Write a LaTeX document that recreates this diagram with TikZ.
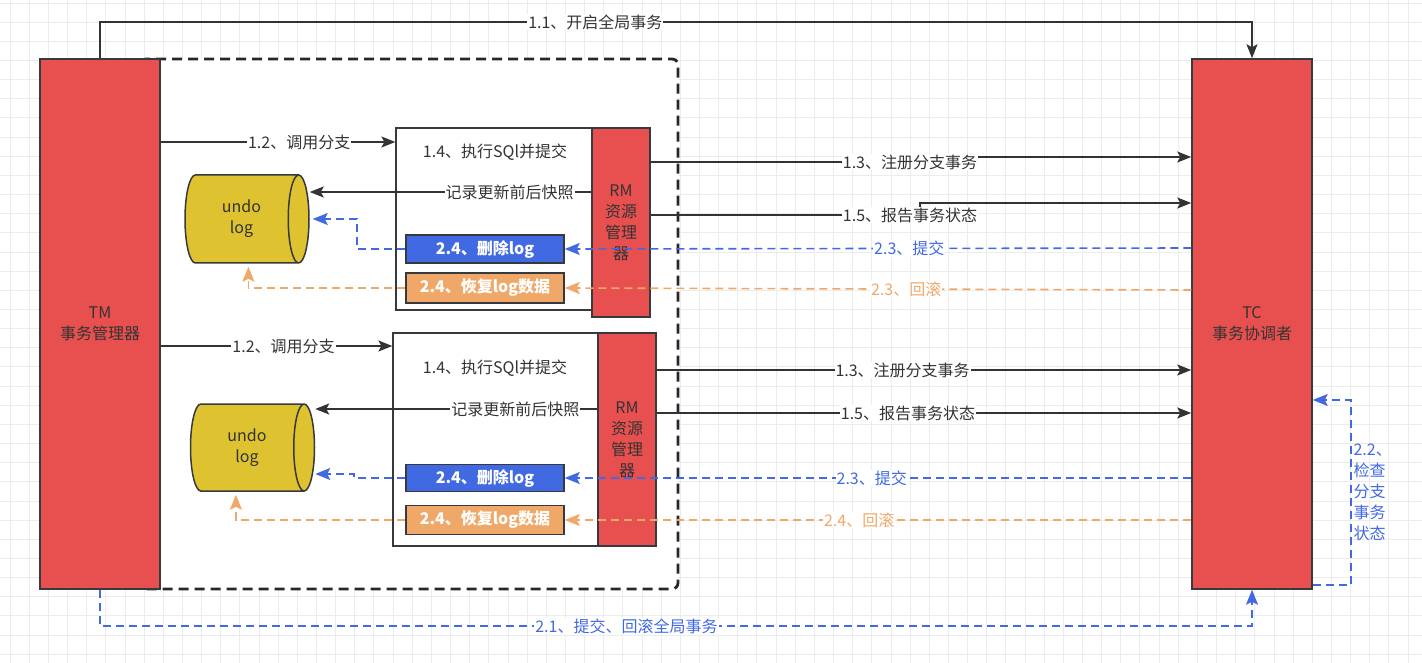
\documentclass[tikz,border=0pt]{standalone}
\usepackage{fontspec}
\setmainfont{Noto Sans CJK SC}
\usetikzlibrary{shapes.geometric, arrows.meta, positioning}
\definecolor{tmred}{RGB}{232,80,80}
\definecolor{edge}{RGB}{54,57,61}
\definecolor{ink}{RGB}{51,51,51}
\definecolor{framedark}{RGB}{35,40,45}
\definecolor{logyellow}{RGB}{222,194,48}
\definecolor{delblue}{RGB}{65,105,225}
\definecolor{recorange}{RGB}{240,168,104}
\definecolor{gridgray}{RGB}{236,236,236}
\tikzstyle{manager} = [rectangle, minimum width=120pt, minimum height=530pt, inner sep=0pt, align=center, draw=edge, line width=1.5pt, fill=tmred, text=ink]
\tikzstyle{rmbox} = [rectangle, minimum width=58pt, inner sep=0pt, align=center, draw=edge, line width=1.5pt, fill=tmred, text=ink]
\tikzstyle{branch} = [rectangle, inner sep=0pt, draw=edge, line width=1.2pt, fill=white]
\tikzstyle{undolog} = [cylinder, shape aspect=0.55, minimum width=88pt, minimum height=124pt, inner sep=0pt, align=center, draw=edge, line width=1.5pt, fill=logyellow, text=ink]
\tikzstyle{delbox} = [rectangle, minimum width=158pt, minimum height=28pt, inner sep=0pt, draw=edge, line width=1.5pt, fill=delblue, text=white, font=\fontsize{16}{21}\selectfont\bfseries]
\tikzstyle{recbox} = [rectangle, minimum width=158pt, minimum height=30pt, inner sep=0pt, draw=edge, line width=1.5pt, fill=recorange, text=white, font=\fontsize{16}{21}\selectfont\bfseries]
\tikzstyle{lbl} = [fill=white, inner sep=1pt, text=ink]
\tikzstyle{flow} = [draw=ink, line width=1.6pt, -{Stealth[length=14pt, width=11pt, inset=3pt]}]
\tikzstyle{commit} = [draw=delblue, line width=1.6pt, dash pattern=on 8pt off 5pt, -{Stealth[length=15pt, width=12pt, inset=3pt]}]
\tikzstyle{rollback} = [draw=recorange, line width=1.6pt, dash pattern=on 8pt off 5pt, -{Stealth[length=15pt, width=12pt, inset=3pt]}]
\tikzstyle{frame} = [draw=framedark, line width=2.8pt, dash pattern=on 10pt off 6pt, rounded corners=6pt, fill=white]
\tikzstyle{gridline} = [draw=gridgray, line width=0.8pt]
\begin{document}
\begin{tikzpicture}[x=1pt, y=-1pt, node distance=40pt, font=\fontsize{16}{21}\selectfont]
\useasboundingbox (0,0) rectangle (1422,663);
\foreach \gx in {10,29.15,...,1422} \draw[gridline] (\gx,0) -- (\gx,663);
\foreach \gy in {3,22.15,...,663} \draw[gridline] (0,\gy) -- (1422,\gy);
\draw[frame] (140,59) rectangle (678,589);

\node (tm) [manager] at (100,324) {TM\\事务管理器};
\node (tc) [manager] at (1252,324) {TC\\事务协调者};

\node (sql1) [branch, minimum width=196pt, minimum height=182pt] at (494,219) {};
\node (rm1) [rmbox, minimum height=189pt] at (621,222.5) {RM\\资源\\管理\\器};
\node (sql1title) [text=ink] at (495,152) {1.4、执行SQl并提交};
\node (undo1) [undolog, anchor=shape center] at (247,219) {undo\\log};
\node (del1) [delbox] at (485,249) {2.4、删除log};
\node (rec1) [recbox, below of=del1, yshift=1pt] {2.4、恢复log数据};

\node (sql2) [branch, minimum width=205pt, minimum height=213pt] at (495.5,439.5) {};
\node (rm2) [rmbox, minimum height=213pt] at (627,439.5) {RM\\资源\\管理\\器};
\node (sql2title) [text=ink] at (495,368) {1.4、执行SQl并提交};
\node (undo2) [undolog, anchor=shape center, minimum width=87pt] at (252.5,447.5) {undo\\log};
\node (del2) [delbox, minimum height=27pt] at (485,478) {2.4、删除log};
\node (rec2) [recbox, below of=del2, yshift=-2pt, minimum height=29pt] {2.4、恢复log数据};

\draw[flow] (tm.north) -- (tm.north |- 0,22) -- node[lbl, pos=0.43] {1.1、开启全局事务} (tc.north |- 0,22) -- (tc.north);

\draw[flow] (tm.east |- 0,142) -- node[lbl, pos=0.59] {1.2、调用分支} (sql1.west |- 0,142);
\draw[flow] (rm1.west |- 0,192) -- node[lbl, pos=0.29] {记录更新前后快照} (undo1.east |- 0,192);
\draw[flow] (rm1.east |- 0,162) -- (910,162) node[lbl] {1.3、注册分支事务} |- (tc.west |- 0,157);
\draw[flow] (rm1.east |- 0,215) -- node[lbl, pos=0.963] {1.5、报告事务状态} (920,215) |- (tc.west |- 0,203);
\draw[commit] (tc.west |- 0,248) -- node[lbl, text=delblue, pos=0.45] {2.3、提交} (del1.east);
\draw[commit] (del1.west) -- ++(-48,0) |- ([xshift=3pt]undo1.east);
\draw[rollback] (tc.west |- 0,290) -- node[lbl, text=recorange, pos=0.455] {2.3、回滚} (rec1.east);
\draw[rollback] (rec1.west) -| ([xshift=7pt, yshift=-3pt]undo1.south);

\draw[flow] (tm.east |- 0,346) -- node[lbl, pos=0.53] {1.2、调用分支} (sql2.west |- 0,346);
\draw[flow] (rm2.west |- 0,409) -- node[lbl, pos=0.29] {记录更新前后快照} (undo2.east |- 0,409);
\draw[flow] (rm2.east |- 0,370) -- node[lbl, pos=0.46] {1.3、注册分支事务} (tc.west |- 0,370);
\draw[flow] (rm2.east |- 0,413) -- node[lbl, pos=0.47] {1.5、报告事务状态} (tc.west |- 0,413);
\draw[commit] (tc.west |- 0,478) -- node[lbl, text=delblue, pos=0.51] {2.3、提交} (del2.east);
\draw[commit] (del2.west) -- ++(-51,0) -- ++(0,-4) -- (undo2.east |- 0,474);
\draw[rollback] (tc.west |- 0,520) -- node[lbl, text=recorange, pos=0.53] {2.4、回滚} (rec2.east);
\draw[rollback] (rec2.west) -| ([xshift=-11pt, yshift=-3pt]undo2.south);

\draw[commit] (tm.south) -- (tm.south |- 0,626) -- node[lbl, text=delblue, pos=0.457] {2.1、提交、回滚全局事务} (tc.south |- 0,626) -- (tc.south);
\draw[commit] (tc.east |- 0,585) -- ++(38,0) -- node[right, text=delblue, align=left, inner sep=2pt] {2.2、\\检查\\分支\\事务\\状态} ++(0,-185) -- (tc.east |- 0,400);
\end{tikzpicture}
\end{document}
